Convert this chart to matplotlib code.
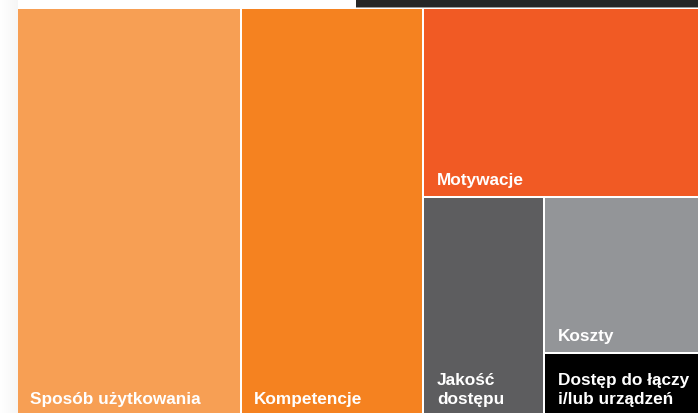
import matplotlib
matplotlib.use("Agg")
import matplotlib.pyplot as plt
from matplotlib.patches import Rectangle
import numpy as np

# ---- data (share of total, read from rectangle areas) ----
labels = ["Sposób użytkowania", "Kompetencje", "Motywacje",
          "Jakość\ndostępu", "Koszty", "Dostęp do łączy\ni/lub urządzeń"]
values = [32.8, 26.8, 18.7, 9.5, 8.7, 3.5]
colors = ["#F79F54", "#F58220", "#F15A24", "#5D5D5F", "#939598", "#000000"]

W, H = 698, 414
fig = plt.figure(figsize=(W / 100, H / 100), dpi=100)
ax = fig.add_axes([0, 0, 1, 1])
ax.set_xlim(0, W)
ax.set_ylim(H, 0)
ax.axis("off")

# faint shadow at left
grad = np.linspace(1.0, 0.965, 64)[None, :]
ax.imshow(np.dstack([grad, grad, grad]), extent=(0, 17.5, H, 0), aspect="auto", zorder=0)

# dark bar at the top right
ax.add_patch(Rectangle((356, 0), W - 356, 8, color="#262626", lw=0, zorder=1))
ax.add_patch(Rectangle((356, 8), W - 356, 1, color="#9a9a9a", lw=0, zorder=1))

# ---- layout: slice-and-dice following the chart structure ----
X0, Y0, X1, Y1 = 17.0, 9.0, 699.0, 417.0
total = sum(values)
rects = [None] * 6
x = X0
for i in (0, 1):
    w = (X1 - X0) * values[i] / total
    rects[i] = (x, Y0, x + w, Y1)
    x += w
rest = values[2:]
rtot = sum(rest)
ymid = Y0 + (Y1 - Y0) * values[2] / rtot
rects[2] = (x, Y0, X1, ymid)
btot = values[3] + values[4] + values[5]
xm = x + (X1 - x) * values[3] / btot
rects[3] = (x, ymid, xm, Y1)
ym2 = ymid + (Y1 - ymid) * values[4] / (values[4] + values[5])
rects[4] = (xm, ymid, X1, ym2)
rects[5] = (xm, ym2, X1, Y1)

gap = 1.0
fs = 12.4
for (a, b, c, d), lab, col in zip(rects, labels, colors):
    ax.add_patch(Rectangle((a + gap, b + gap), c - a - 2 * gap, d - b - 2 * gap,
                           facecolor=col, edgecolor="none", zorder=2))
    lines = lab.split("\n")
    n = len(lines)
    for k, line in enumerate(lines):
        ax.text(a + gap + 12.5, d - gap - 12 - (n - 1 - k) * 19, line,
                color="white", fontsize=fs, fontweight="bold",
                family=["Liberation Sans", "DejaVu Sans"],
                ha="left", va="baseline", zorder=3)

fig.savefig("out.png", dpi=100, facecolor="white")
